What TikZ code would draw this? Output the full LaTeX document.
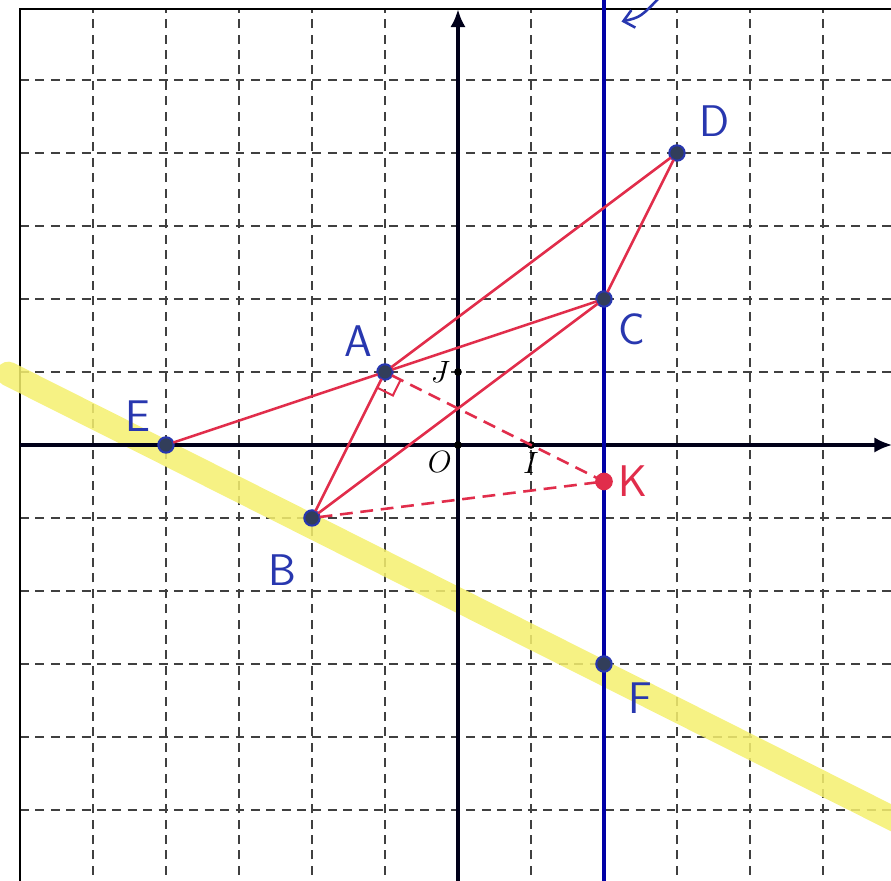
\documentclass[tikz,border=0pt]{standalone}
\usepackage{tikz,tkz-graph}
\usetikzlibrary{calc,arrows.meta,backgrounds}

\definecolor{handblue}{RGB}{40,55,175}
\definecolor{linered}{RGB}{225,45,75}
\definecolor{dotgrey}{RGB}{50,62,90}
\definecolor{marker}{RGB}{245,240,110}

\tikzset{
  gridline/.style={black!75, line width=0.5pt, dash pattern=on 3.5pt off 2.5pt},
  axisline/.style={black!90!blue, line width=1.6pt, -{Latex[length=7pt,width=6pt]}},
  frameline/.style={black, line width=0.6pt},
  highlight/.style={marker, line width=9.5pt, opacity=0.85, line cap=round},
  droite/.style={blue!65!black, line width=1.3pt},
  smalldot/.style={circle, inner sep=0pt, minimum size=3pt, fill=black},
  pointdot/.style={circle, inner sep=0pt, minimum size=6pt, draw=handblue, line width=0.8pt, fill=dotgrey},
  reddot/.style={circle, inner sep=0pt, minimum size=6.5pt, draw=linered, fill=linered},
}

\begin{document}
\begin{tikzpicture}[x=1cm,y=1cm]
    \useasboundingbox (-6.274,-5.973) rectangle (5.932,6.096);
    \clip (-6.274,-5.973) rectangle (5.932,6.096);

    % Axes
    \coordinate (xmin) at (-6,0);
    \coordinate (xmax) at (5.95,0);
    \coordinate (ymin) at (0,-6.1);
    \coordinate (ymax) at (0,5.97);
    \draw[axisline] (xmin) -- (xmax);
    \draw[axisline] (ymin) -- (ymax);

    % Droite x = 2
    \coordinate (d1) at (2,-6.1);
    \coordinate (d2) at (2,6.1);
    \draw[droite] (d1) -- (d2);
    \coordinate (fl1) at (2.78,6.15);
    \coordinate (fl2) at (2.24,5.80);
    \draw[handblue, line width=1pt, -{Straight Barb[length=4pt,width=7pt]}] (fl1) .. controls (2.5,5.86) .. (fl2);

    % Vertices
    \SetVertexNormal
    \tikzset{VertexStyle/.style={smalldot}}
    \Vertex[x=0 ,y=0 ,L={\large$O$},LabelOut,Lpos=225,Ldist=-3pt]{O}
    \Vertex[x=1 ,y=0 ,L={\large$I$},LabelOut,Lpos=270,Ldist=-2pt]{I}
    \Vertex[x=0 ,y=1 ,L={\large$J$},LabelOut,Lpos=180,Ldist=-2pt]{J}
    \tikzset{VertexStyle/.style={pointdot}}
    \Vertex[x=-1 ,y=1 ,L={\LARGE\sffamily\color{handblue}A},LabelOut,Lpos=122,Ldist=0pt]{A}
    \Vertex[x=-2 ,y=-1 ,L={\LARGE\sffamily\color{handblue}B},LabelOut,Lpos=256,Ldist=8pt]{B}
    \Vertex[x=2 ,y=2 ,L={\LARGE\sffamily\color{handblue}C},LabelOut,Lpos=-42,Ldist=0pt]{C}
    \Vertex[x=3 ,y=4 ,L={\LARGE\sffamily\color{handblue}D},LabelOut,Lpos=28,Ldist=3pt]{D}
    \Vertex[x=-4 ,y=0 ,L={\LARGE\sffamily\color{handblue}E},LabelOut,Lpos=145,Ldist=0pt]{E}
    \Vertex[x=2 ,y=-3 ,L={\LARGE\sffamily\color{handblue}F},LabelOut,Lpos=-32,Ldist=4pt]{F}
    \tikzset{VertexStyle/.style={reddot}}
    \Vertex[x=2 ,y=-0.5 ,L={\LARGE\sffamily\color{linered}K},LabelOut,Lpos=0,Ldist=-1pt]{K}

    % Edges
    \SetUpEdge[lw=1pt, color=linered]
    \Edge(E)(A)
    \Edge(A)(D)
    \Edge(A)(C)
    \Edge(C)(D)
    \Edge(B)(C)
    \Edge(A)(B)
    \Edge[style={dash pattern=on 5pt off 3pt}](A)(K)
    \Edge[style={dash pattern=on 5pt off 3pt}](B)(K)

    % Angle droit en A
    \draw[linered, line width=0.8pt] ([shift={(0.215,-0.107)}]A.center) -- ++(-0.107,-0.215) -- ++(-0.215,0.107);

    \begin{pgfonlayer}{background}
      % Grid
      \foreach \x in {-5,...,-1,1,2,...,5}
        \draw[gridline] (\x,-6.1) -- (\x,5.97);
      \foreach \y in {-5,...,-1,1,2,...,5}
        \draw[gridline] (-6,\y) -- (6,\y);
      \draw[frameline] (-6,-6.1) -- (-6,5.97) -- (6,5.97);
      % Surligneur
      \draw[highlight] ([yshift=-3pt]$(E)!-0.36!(F)$) -- ([yshift=-4pt]$(E)!1.7!(F)$);
    \end{pgfonlayer}
\end{tikzpicture}
\end{document}
